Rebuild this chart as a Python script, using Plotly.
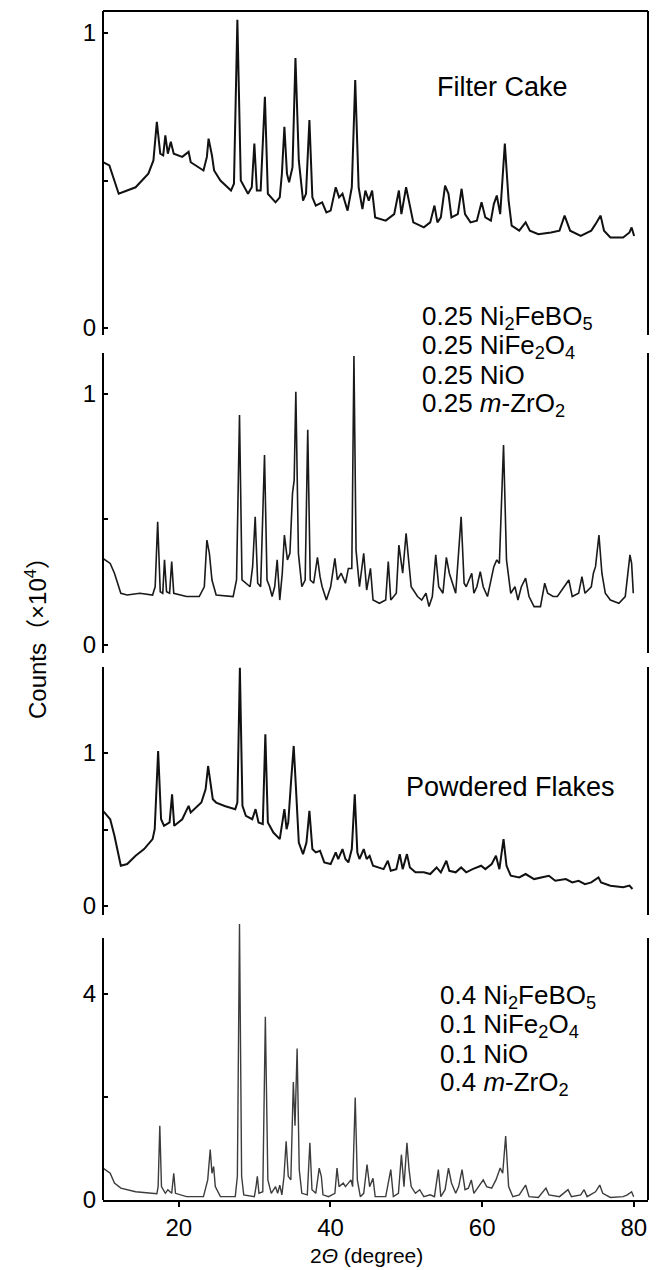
import plotly.graph_objects as go

# ---------------- data (2-theta in degrees, counts in 10^4) ----------------
filter_cake = [
    (10.0, 0.562), (10.84, 0.551), (12.07, 0.455), (14.30, 0.477), (15.98, 0.523), (16.65, 0.568),
    (17.10, 0.699), (17.55, 0.591), (17.94, 0.585), (18.22, 0.653), (18.55, 0.591), (18.94, 0.631),
    (19.33, 0.591), (20.45, 0.580), (21.29, 0.597), (21.57, 0.562), (23.25, 0.534), (23.70, 0.580),
    (23.92, 0.642), (24.37, 0.585), (24.65, 0.534), (25.48, 0.500), (26.88, 0.466), (27.27, 0.489),
    (27.72, 1.045), (28.17, 0.500), (29.12, 0.455), (29.62, 0.477), (29.96, 0.625), (30.29, 0.466),
    (30.79, 0.466), (31.35, 0.784), (31.74, 0.455), (32.75, 0.426), (33.31, 0.443), (33.59, 0.523),
    (33.92, 0.682), (34.26, 0.523), (34.54, 0.494), (34.99, 0.545), (35.38, 0.915), (35.82, 0.568),
    (36.38, 0.432), (36.77, 0.455), (37.22, 0.705), (37.61, 0.443), (38.06, 0.415), (38.90, 0.426),
    (39.46, 0.392), (40.02, 0.398), (40.69, 0.477), (41.13, 0.443), (41.58, 0.455), (42.25, 0.398),
    (42.81, 0.477), (43.26, 0.841), (43.71, 0.477), (44.21, 0.403), (44.60, 0.466), (45.05, 0.432),
    (45.49, 0.466), (45.89, 0.375), (47.28, 0.364), (48.40, 0.386), (49.02, 0.466), (49.35, 0.386),
    (49.97, 0.477), (50.36, 0.432), (50.92, 0.358), (52.31, 0.341), (53.15, 0.358), (53.71, 0.415),
    (54.10, 0.358), (54.55, 0.375), (55.11, 0.483), (55.56, 0.455), (55.95, 0.375), (56.79, 0.386),
    (57.29, 0.472), (57.74, 0.386), (58.46, 0.358), (59.30, 0.364), (59.92, 0.426), (60.42, 0.375),
    (61.15, 0.364), (61.54, 0.420), (61.93, 0.449), (62.38, 0.386), (62.99, 0.625), (63.49, 0.432),
    (63.89, 0.347), (64.89, 0.330), (65.73, 0.358), (66.29, 0.330), (67.41, 0.318), (69.08, 0.324),
    (70.20, 0.330), (70.87, 0.381), (71.60, 0.330), (73.00, 0.312), (74.39, 0.330), (74.95, 0.352),
    (75.62, 0.381), (76.07, 0.330), (76.91, 0.307), (78.59, 0.307), (79.43, 0.324), (79.71, 0.341),
    (80.04, 0.312),
]

calc_equal = [
    (10.0, 0.345), (10.95, 0.325), (11.51, 0.286), (12.35, 0.206), (13.19, 0.199), (14.86, 0.206),
    (16.54, 0.199), (16.88, 0.232), (17.21, 0.491), (17.55, 0.212), (17.88, 0.206), (18.11, 0.339),
    (18.38, 0.212), (18.78, 0.206), (19.06, 0.332), (19.33, 0.206), (21.01, 0.193), (22.69, 0.193),
    (23.36, 0.232), (23.70, 0.418), (24.03, 0.365), (24.37, 0.259), (24.92, 0.199), (27.16, 0.193),
    (27.61, 0.259), (28.00, 0.916), (28.33, 0.259), (29.40, 0.232), (29.73, 0.312), (30.07, 0.511),
    (30.40, 0.246), (30.79, 0.232), (31.30, 0.757), (31.63, 0.259), (31.97, 0.232), (32.30, 0.193),
    (32.64, 0.232), (32.97, 0.339), (33.31, 0.179), (33.64, 0.286), (33.92, 0.438), (34.32, 0.339),
    (34.65, 0.365), (34.99, 0.604), (35.21, 0.657), (35.43, 1.009), (35.77, 0.365), (36.22, 0.232),
    (36.66, 0.259), (37.00, 0.857), (37.33, 0.259), (37.78, 0.246), (38.28, 0.349), (38.62, 0.272),
    (38.90, 0.232), (39.46, 0.179), (40.02, 0.232), (40.58, 0.345), (40.91, 0.259), (41.41, 0.286),
    (41.97, 0.246), (42.36, 0.305), (42.81, 0.305), (43.09, 1.151), (43.37, 0.378), (43.82, 0.232),
    (44.38, 0.365), (44.77, 0.219), (45.27, 0.305), (45.61, 0.179), (46.45, 0.166), (47.28, 0.179),
    (47.62, 0.332), (47.95, 0.179), (48.68, 0.206), (49.02, 0.398), (49.52, 0.286), (49.97, 0.445),
    (50.30, 0.339), (50.64, 0.232), (51.48, 0.193), (52.03, 0.179), (52.59, 0.206), (52.99, 0.153),
    (53.43, 0.193), (53.88, 0.359), (54.27, 0.232), (54.83, 0.206), (55.28, 0.349), (55.67, 0.286),
    (56.51, 0.206), (57.23, 0.511), (57.62, 0.246), (57.90, 0.232), (58.63, 0.286), (58.91, 0.206),
    (59.30, 0.232), (59.75, 0.292), (60.14, 0.232), (60.70, 0.193), (61.54, 0.312), (61.93, 0.339),
    (62.27, 0.325), (62.82, 0.797), (63.21, 0.339), (63.77, 0.206), (64.33, 0.232), (64.72, 0.179),
    (65.17, 0.232), (65.73, 0.266), (66.18, 0.193), (66.85, 0.153), (67.69, 0.153), (68.25, 0.246),
    (68.64, 0.206), (69.36, 0.193), (69.92, 0.193), (70.48, 0.219), (71.43, 0.259), (71.88, 0.193),
    (72.72, 0.206), (73.16, 0.272), (73.56, 0.206), (74.39, 0.232), (74.67, 0.286), (74.95, 0.312),
    (75.40, 0.438), (75.79, 0.286), (76.24, 0.206), (76.91, 0.179), (78.03, 0.166), (78.87, 0.193),
    (79.26, 0.312), (79.49, 0.359), (79.71, 0.325), (79.93, 0.206),
]

powdered_flakes = [
    (10.0, 0.622), (10.95, 0.567), (11.51, 0.459), (12.35, 0.263), (13.19, 0.274), (14.30, 0.328),
    (15.42, 0.372), (16.54, 0.437), (16.82, 0.502), (17.27, 1.013), (17.66, 0.567), (18.05, 0.524),
    (18.78, 0.546), (19.11, 0.730), (19.39, 0.524), (20.45, 0.567), (21.29, 0.654), (21.57, 0.611),
    (22.97, 0.676), (23.53, 0.763), (23.86, 0.915), (24.20, 0.807), (24.48, 0.698), (24.92, 0.676),
    (26.04, 0.654), (27.44, 0.633), (27.72, 0.676), (28.05, 1.557), (28.39, 0.654), (28.84, 0.589),
    (29.68, 0.567), (30.12, 0.633), (30.51, 0.546), (31.07, 0.535), (31.41, 1.122), (31.74, 0.546),
    (32.47, 0.480), (33.31, 0.437), (33.59, 0.524), (33.92, 0.633), (34.21, 0.502), (34.43, 0.546),
    (34.82, 0.828), (35.15, 1.046), (35.43, 0.785), (35.82, 0.415), (36.38, 0.339), (36.83, 0.415),
    (37.22, 0.622), (37.61, 0.372), (38.06, 0.350), (38.62, 0.361), (39.18, 0.285), (40.02, 0.274),
    (40.69, 0.350), (41.02, 0.307), (41.58, 0.372), (41.97, 0.307), (42.36, 0.285), (42.81, 0.372),
    (43.20, 0.730), (43.54, 0.350), (43.82, 0.307), (44.38, 0.372), (44.77, 0.307), (45.16, 0.328),
    (45.61, 0.263), (46.45, 0.252), (47.00, 0.241), (47.56, 0.296), (47.95, 0.230), (48.68, 0.241),
    (49.13, 0.339), (49.52, 0.241), (50.08, 0.339), (50.47, 0.252), (51.20, 0.220), (52.31, 0.220),
    (53.15, 0.209), (53.99, 0.252), (54.55, 0.220), (55.28, 0.296), (55.67, 0.230), (56.51, 0.220),
    (57.23, 0.252), (57.90, 0.220), (58.74, 0.241), (59.86, 0.263), (60.42, 0.241), (61.26, 0.274),
    (61.82, 0.328), (62.27, 0.241), (62.82, 0.437), (63.21, 0.263), (63.77, 0.198), (64.89, 0.187),
    (65.73, 0.209), (66.85, 0.176), (67.97, 0.187), (68.80, 0.198), (69.64, 0.165), (71.04, 0.176),
    (71.88, 0.154), (72.72, 0.165), (73.56, 0.143), (74.39, 0.154), (75.34, 0.187), (75.68, 0.154),
    (76.91, 0.133), (78.59, 0.122), (79.43, 0.133), (79.82, 0.111),
]

calc_rich = [
    (10.0, 0.62), (10.95, 0.52), (11.51, 0.33), (12.35, 0.23), (14.30, 0.16), (15.98, 0.13),
    (17.10, 0.12), (17.27, 0.26), (17.49, 1.44), (17.71, 0.26), (18.22, 0.13), (18.55, 0.20),
    (19.06, 0.13), (19.33, 0.52), (19.56, 0.13), (21.01, 0.065), (23.25, 0.065), (23.81, 0.39),
    (24.14, 0.98), (24.37, 0.52), (24.59, 0.65), (24.81, 0.26), (25.48, 0.065), (27.44, 0.065),
    (27.72, 0.46), (28.00, 5.36), (28.28, 0.46), (28.56, 0.10), (29.96, 0.065), (30.18, 0.26),
    (30.35, 0.46), (30.57, 0.13), (31.07, 0.16), (31.41, 3.56), (31.74, 0.39), (32.19, 0.13),
    (32.75, 0.26), (33.03, 0.13), (33.31, 0.29), (33.59, 0.10), (33.87, 0.46), (34.15, 1.14),
    (34.43, 0.46), (34.77, 0.39), (35.10, 2.29), (35.32, 1.44), (35.60, 2.94), (35.88, 0.59),
    (36.22, 0.13), (36.94, 0.10), (37.28, 1.11), (37.56, 0.20), (38.06, 0.13), (38.51, 0.62),
    (38.79, 0.46), (39.01, 0.10), (39.74, 0.065), (40.58, 0.13), (40.86, 0.62), (41.13, 0.26),
    (41.69, 0.33), (41.97, 0.26), (42.36, 0.33), (42.70, 0.39), (42.92, 0.26), (43.26, 1.99),
    (43.54, 0.39), (43.93, 0.065), (44.38, 0.13), (44.82, 0.69), (45.16, 0.26), (45.61, 0.42),
    (45.89, 0.065), (47.28, 0.065), (47.95, 0.59), (48.29, 0.065), (48.96, 0.13), (49.35, 0.88),
    (49.69, 0.26), (50.08, 1.11), (50.36, 0.59), (50.64, 0.26), (51.20, 0.13), (51.76, 0.20),
    (52.31, 0.065), (53.15, 0.10), (53.71, 0.065), (54.22, 0.59), (54.55, 0.065), (55.11, 0.20),
    (55.56, 0.62), (55.95, 0.33), (56.51, 0.13), (56.90, 0.26), (57.35, 0.59), (57.74, 0.20),
    (58.18, 0.23), (58.57, 0.39), (58.91, 0.13), (59.69, 0.29), (60.14, 0.39), (60.59, 0.26),
    (61.26, 0.23), (61.82, 0.39), (62.38, 0.62), (62.71, 0.52), (63.10, 1.24), (63.49, 0.26),
    (64.05, 0.065), (64.89, 0.10), (65.73, 0.29), (66.18, 0.065), (67.41, 0.05), (68.41, 0.23),
    (68.80, 0.10), (70.20, 0.065), (71.32, 0.20), (71.77, 0.065), (73.00, 0.10), (73.44, 0.20),
    (73.84, 0.065), (74.95, 0.16), (75.51, 0.29), (75.90, 0.13), (76.91, 0.05), (78.59, 0.065),
    (79.15, 0.10), (79.71, 0.16), (79.98, 0.065),
]

x_ticks = [20, 40, 60, 80]
x_tick_labels = ["20", "40", "60", "80"]
y_ticks_small = [0, 0.5, 1]
y_tick_labels_small = ["0", "", "1"]
y_ticks_big = [0, 2, 4]
y_tick_labels_big = ["0", "", "4"]

label_filter = "Filter Cake"
label_flakes = "Powdered Flakes"
comp_equal = ["0.25 Ni<sub>2</sub>FeBO<sub>5</sub>", "0.25 NiFe<sub>2</sub>O<sub>4</sub>",
              "0.25 NiO", "0.25 <i>m</i>-ZrO<sub>2</sub>"]
comp_rich = ["0.4 Ni<sub>2</sub>FeBO<sub>5</sub>", "0.1 NiFe<sub>2</sub>O<sub>4</sub>",
             "0.1 NiO", "0.4 <i>m</i>-ZrO<sub>2</sub>"]
y_title = "Counts\uff08\u00d710<sup>4</sup>\uff09"
x_title = "2<i>\u0398</i> (degree)"

# ---------------- layout geometry (pixels) ----------------
W, H = 660, 1270
ML, MR, MT, MB = 103, 12, 11, 70
PW = W - ML - MR
PH = H - MT - MB
BOTTOM = H - MB


def py(y):  # pixel y -> paper fraction
    return (BOTTOM - y) / PH


def px(x):
    return (x - ML) / PW


FONT = "Liberation Sans, Arial, Helvetica, Noto Sans CJK SC, sans-serif"

panels = [
    # data, yaxis, domain px (bottom, top), range, ticks, labels, frame px (bottom, top), colour, width
    (filter_cake, "y", (335, 11), [-0.0237, 1.0746], y_ticks_small, y_tick_labels_small, (335, 11), "#111111", 2.0),
    (calc_equal, "y2", (653, 353), [-0.0319, 1.1633], y_ticks_small, y_tick_labels_small, (653, 353), "#1a1a1a", 1.6),
    (powdered_flakes, "y3", (915, 667), [-0.0588, 1.562], y_ticks_small, y_tick_labels_small, (915, 667), "#111111", 2.0),
    (calc_rich, "y4", (1200, 920), [0, 5.437], y_ticks_big, y_tick_labels_big, (1200, 938), "#3c3c3c", 1.4),
]

fig = go.Figure()
shapes = []
layout_axes = {}
for i, (pts, yname, dom, rng, tv, tt, frame, col, lw) in enumerate(panels):
    fig.add_trace(go.Scatter(
        x=[p[0] for p in pts], y=[p[1] for p in pts], mode="lines",
        line=dict(color=col, width=lw), xaxis="x", yaxis=yname,
        showlegend=False, hoverinfo="skip"))
    key = "yaxis" if i == 0 else f"yaxis{i + 1}"
    layout_axes[key] = dict(
        domain=[py(dom[0]), py(dom[1])], range=rng, anchor="x",
        showline=False, showgrid=False, zeroline=False,
        tickmode="array", tickvals=tv, ticktext=tt,
        ticks="inside", ticklen=5, tickwidth=1.5, tickcolor="black",
        ticklabelstandoff=6,
        tickfont=dict(family=FONT, size=24, color="black"),
    )
    for xp in (0, 1):
        shapes.append(dict(type="line", xref="paper", yref="paper",
                           x0=xp, x1=xp, y0=py(frame[0]), y1=py(frame[1]),
                           line=dict(color="black", width=2)))

# top border of first panel
shapes.append(dict(type="line", xref="paper", yref="paper", x0=0, x1=1,
                   y0=py(11), y1=py(11), line=dict(color="black", width=2)))

fig.update_layout(
    width=W, height=H,
    margin=dict(l=ML, r=MR, t=MT, b=MB),
    paper_bgcolor="white", plot_bgcolor="rgba(0,0,0,0)",
    xaxis=dict(range=[10, 81.87], anchor="y4", showgrid=False, zeroline=False,
               showline=True, linecolor="black", linewidth=2,
               tickmode="array", tickvals=x_ticks, ticktext=x_tick_labels,
               ticks="outside", ticklen=5, tickwidth=1.5, tickcolor="black",
               tickfont=dict(family=FONT, size=24, color="black")),
    shapes=shapes,
    **layout_axes,
)

ann = []


def add_text(text, x, y, size=26, xanchor="left", angle=0):
    ann.append(dict(text=text, x=px(x), y=py(y), xref="paper", yref="paper",
                    xanchor=xanchor, yanchor="middle", showarrow=False, textangle=angle,
                    font=dict(family=FONT, size=size, color="black")))


add_text(label_filter, 502, 87, size=27, xanchor="center")
for k, t in enumerate(comp_equal):
    add_text(t, 420, 317 + k * 29)
add_text(label_flakes, 510, 787, size=27, xanchor="center")
for k, t in enumerate(comp_rich):
    add_text(t, 438, 996 + k * 29)

add_text(y_title, 36, 632, size=24, xanchor="center", angle=-90)
add_text(x_title, 366, 1255, size=21, xanchor="center")

fig.update_layout(annotations=ann)
fig.write_html("out.html", config={"displayModeBar": False},
               post_script="document.body.style.margin='0';document.body.style.overflow='hidden';")
